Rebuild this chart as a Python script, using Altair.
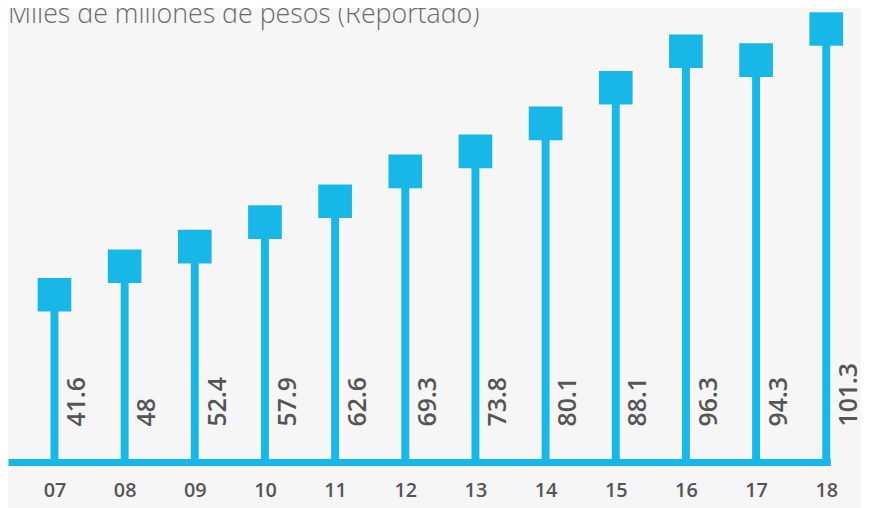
import altair as alt
import pandas as pd

years = ["07", "08", "09", "10", "11", "12", "13", "14", "15", "16", "17", "18"]
values = [41.6, 48, 52.4, 57.9, 62.6, 69.3, 73.8, 80.1, 88.1, 96.3, 94.3, 101.3]
labels = ["41.6", "48", "52.4", "57.9", "62.6", "69.3", "73.8", "80.1", "88.1", "96.3", "94.3", "101.3"]
title_text = "Miles de millones de pesos (Reportado)"
base_value = 4

BLUE = "#17b8e8"
TEXT = "#555555"
BG = "#f6f6f6"

df = pd.DataFrame({"year": years, "value": values, "label": labels, "base": [base_value] * len(years)})

x = alt.X("year:O", sort=None,
          scale=alt.Scale(type="point", padding=0.36, align=0.92),
          axis=alt.Axis(title=None, domain=True, domainColor=BLUE, domainWidth=7,
                        ticks=False, tickSize=0, labelAngle=0, labelFontSize=20,
                        labelFontWeight=600, labelColor=TEXT, labelPadding=19,
                        labelFont="Open Sans", grid=False))
yscale = alt.Scale(domain=[base_value, 105.5], nice=False, zero=False)

base = alt.Chart(df)

stems = base.mark_rule(color=BLUE, strokeWidth=8).encode(
    x=x,
    y=alt.Y("base:Q", scale=yscale, axis=None),
    y2="value:Q",
)

squares = base.mark_square(size=1156, color=BLUE, opacity=1, filled=True).encode(
    x=x,
    y=alt.Y("value:Q", scale=yscale, axis=None),
)

texts = base.mark_text(angle=270, align="left", baseline="alphabetic", dx=36, dy=31,
                       fontSize=25, fontWeight=600, color=TEXT, font="Open Sans").encode(
    x=x,
    y=alt.Y("base:Q", scale=yscale, axis=None),
    text="label:N",
)

title = alt.Chart(pd.DataFrame({"t": [title_text]})).mark_text(
    align="left", baseline="alphabetic", fontSize=27, fontWeight=300,
    color="#6b6b6b", font="Open Sans").encode(
    x=alt.value(0), y=alt.value(13), text="t:N")

chart = alt.layer(stems, squares, texts, title).properties(
    width=830, height=456,
    autosize=alt.AutoSizeParams(type="none"),
    padding={"left": 0, "top": 0, "right": 31, "bottom": 44},
    background=BG,
).configure_view(stroke=None)

chart.save("out.html", embed_options={"renderer": "svg", "actions": False})
